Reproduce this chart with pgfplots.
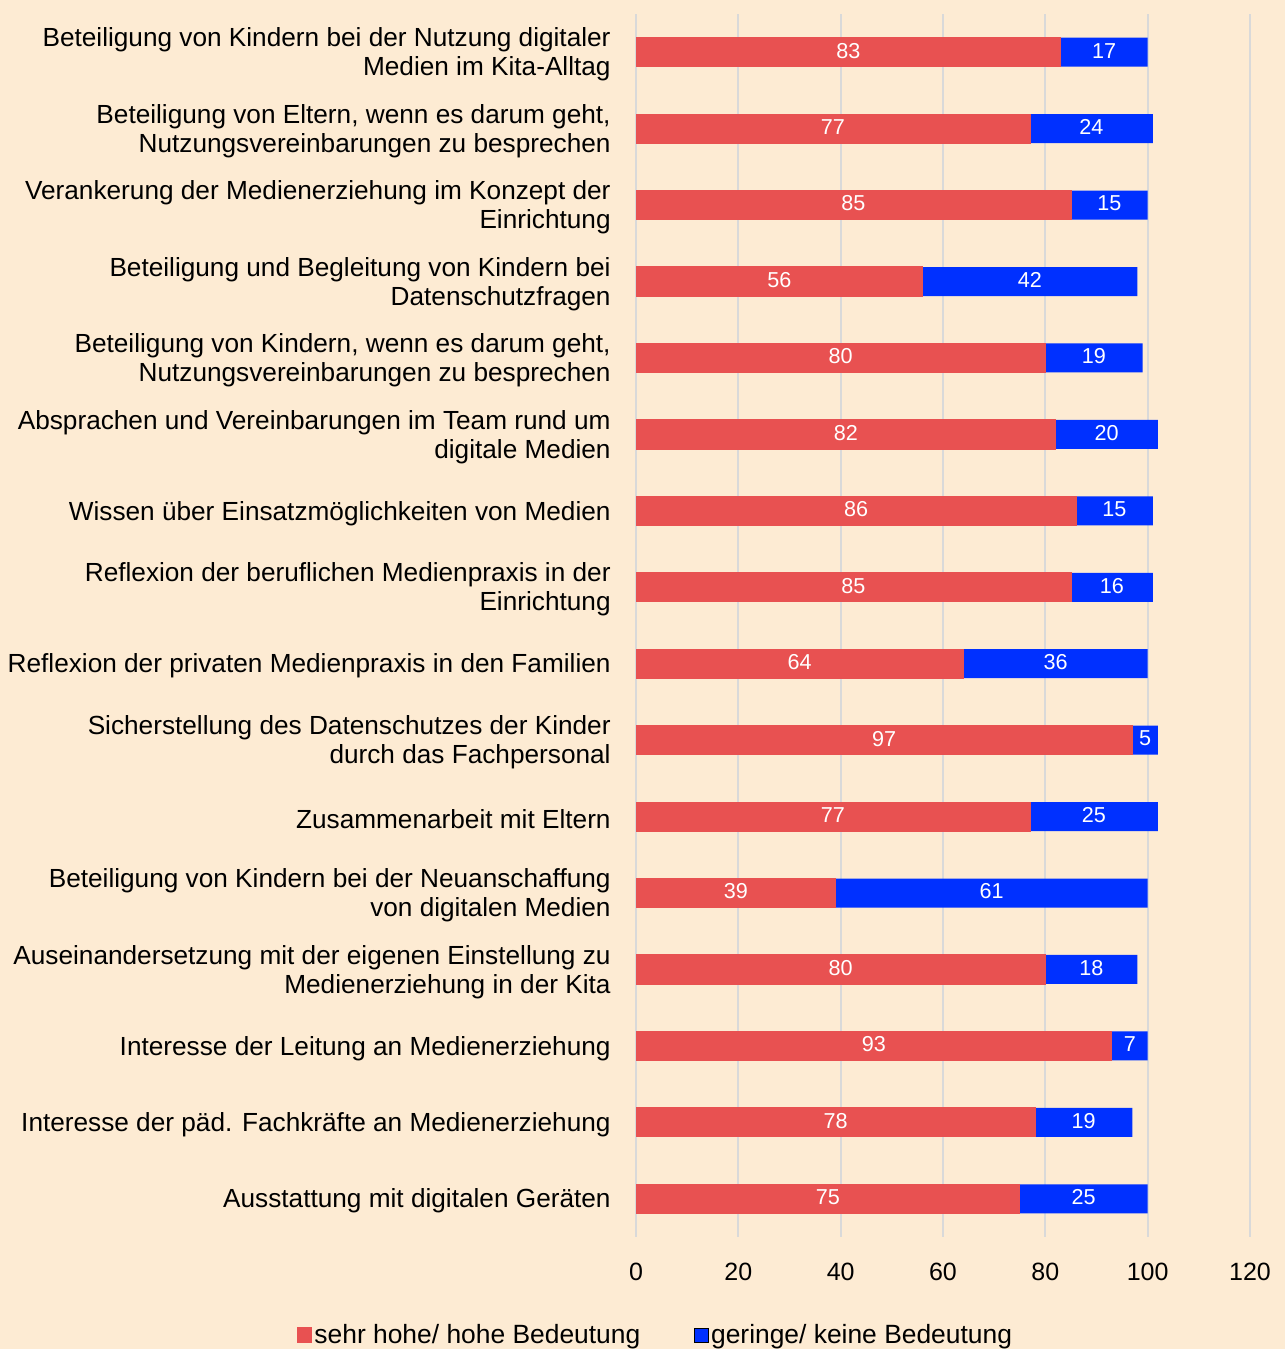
\documentclass[border=0pt]{standalone}
\usepackage{pgfplots}
\pgfplotsset{compat=1.18}
\usepackage{pgfplotstable}
\usepackage{fontspec}
\setmainfont{Liberation Sans}
\definecolor{bg}{HTML}{FDEBD3}
\definecolor{cred}{HTML}{E85151}
\definecolor{cblue}{HTML}{0030FF}
\definecolor{cgrid}{HTML}{D9D9D9}
\pgfplotstableread{
idx red blue
0 83 17
1 77 24
2 85 15
3 56 42
4 80 19
5 82 20
6 86 15
7 85 16
8 64 36
9 97 5
10 77 25
11 39 61
12 80 18
13 93 7
14 78 19
15 75 25
}\datatable
\begin{document}
\begin{tikzpicture}
\fill[bg] (0,0) rectangle (642.5pt,674.5pt);
\begin{axis}[
  at={(318pt,56pt)}, anchor=south west,
  scale only axis, width=307pt, height=611.5pt,
  xmin=0, xmax=120, ymin=-0.5, ymax=15.5,
  y dir=reverse,
  xtick={0,20,...,120},
  ytick={0,...,15},
  /pgf/number format/assume math mode=true,
  yticklabels={
    {Beteiligung von Kindern bei der Nutzung digitaler\\Medien im Kita-Alltag},
    {Beteiligung von Eltern, wenn es darum geht,\\Nutzungsvereinbarungen zu besprechen},
    {Verankerung der Medienerziehung im Konzept der\\Einrichtung},
    {Beteiligung und Begleitung von Kindern bei\\Datenschutzfragen},
    {Beteiligung von Kindern, wenn es darum geht,\\Nutzungsvereinbarungen zu besprechen},
    {Absprachen und Vereinbarungen im Team rund um\\digitale Medien},
    {Wissen über Einsatzmöglichkeiten von Medien},
    {Reflexion der beruflichen Medienpraxis in der\\Einrichtung},
    {Reflexion der privaten Medienpraxis in den Familien},
    {Sicherstellung des Datenschutzes der Kinder\\durch das Fachpersonal},
    {Zusammenarbeit mit Eltern},
    {Beteiligung von Kindern bei der Neuanschaffung\\von digitalen Medien},
    {Auseinandersetzung mit der eigenen Einstellung zu\\Medienerziehung in der Kita},
    {Interesse der Leitung an Medienerziehung},
    {Interesse der päd. Fachkräfte an Medienerziehung},
    {Ausstattung mit digitalen Geräten}
  },
  yticklabel style={align=right, font=\fontsize{13.1}{14.5}\selectfont, inner sep=0pt, xshift=-12.5pt, yshift=-1.2pt},
  xticklabel style={font=\fontsize{12.5}{14}\selectfont, inner sep=0pt, anchor=north, yshift=-13pt},
  axis line style={draw=none},
  major tick length=0pt,
  xmajorgrids, major grid style={cgrid, line width=1pt},
  legend columns=2,
  legend style={at={(0.032,-0.0801)}, anchor=center, draw=none, fill=none,
    font=\fontsize{13.2}{14.5}\selectfont,
    /tikz/every even column/.append style={column sep=26pt},
    nodes={inner sep=1pt}},
  legend image code/.code={\fill[#1] (0pt,-3.5pt) rectangle (7pt,3.5pt);},
  lbl/.style={draw=none, mark=none, forget plot, nodes near coords, point meta=explicit,
    every node near coord/.append style={anchor=center, text=white, inner sep=0pt, yshift=0.8pt,
      font=\fontsize{10.8}{12}\selectfont}},
]
% blue segment: from 0 to red+blue, red drawn over it
\addplot[xbar, bar shift=0pt, bar width=14.5pt, fill=cblue, draw=none, forget plot]
  table[x expr=\thisrow{red}+\thisrow{blue}, y=idx]{\datatable};
\addplot[xbar, bar shift=0pt, bar width=14.5pt, fill=cred, draw=cred, line width=0.6pt]
  table[x=red, y=idx]{\datatable};
\addlegendentry{sehr hohe/ hohe Bedeutung}
\addlegendimage{fill=cblue}
\addlegendentry{geringe/ keine Bedeutung}
% value labels centred in each segment
\addplot[lbl] table[x expr=\thisrow{red}/2, y=idx, meta=red]{\datatable};
\addplot[lbl] table[x expr=\thisrow{red}+\thisrow{blue}/2, y=idx, meta=blue]{\datatable};
\end{axis}
\pgfresetboundingbox
\useasboundingbox (0,0) rectangle (642.5pt,674.5pt);
\end{tikzpicture}
\end{document}
